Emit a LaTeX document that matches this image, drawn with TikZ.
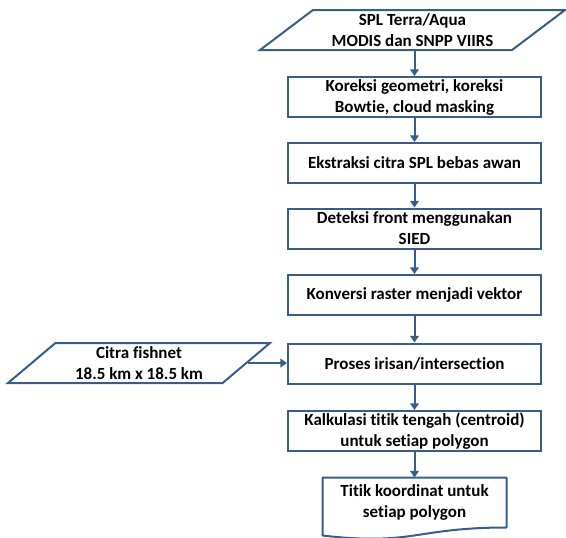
\documentclass[tikz,border=0pt]{standalone}
\usepackage{fontspec}
\setmainfont{Carlito}[Ligatures=NoCommon]
\usetikzlibrary{shapes.geometric,arrows.meta,calc}
\definecolor{flowblue}{RGB}{56,93,138}
\tikzset{every picture/.style={line width=0.75pt}}
\tikzset{
  flowtext/.style={align=center, inner sep=1pt, font=\bfseries\fontsize{12.75}{15.75}\selectfont},
  procbox/.style={flowtext, draw=flowblue, line width=1.5pt, minimum width=189.75pt, minimum height=30pt},
  databox/.style={flowtext, draw=flowblue, line width=1.5pt, shape=trapezium, trapezium stretches body, minimum height=30pt},
  flowarrow/.style={draw=flowblue, line width=1.5pt, -{Triangle[length=5pt,width=6.5pt]}}
}

\begin{document}
\begin{tikzpicture}[x=0.75pt,y=0.75pt,yscale=-1,xscale=1]
\useasboundingbox (0,0) rectangle (566,537);

%Input data
\node [databox, trapezium left angle=34, trapezium right angle=146, minimum width=228.75pt] (spl) at (412.5,30) {SPL Terra/Aqua\\MODIS dan SNPP VIIRS};
\node [databox, trapezium left angle=37, trapezium right angle=143, minimum width=196.5pt] (fishnet) at (139,363) {Citra fishnet\\18.5 km x 18.5 km};
\coordinate (fishout) at ($(fishnet.top right corner)!0.5!(fishnet.bottom right corner)$);

%Process steps
\node [procbox] (koreksi) at (414.5,97) {Koreksi geometri, koreksi\\Bowtie, cloud masking};
\node [procbox] (ekstraksi) at (414.5,163) {Ekstraksi citra SPL bebas awan};
\node [procbox] (deteksi) at (414.5,228.5) {Deteksi front menggunakan\\SIED};
\node [procbox] (konversi) at (414.5,295) {Konversi raster menjadi vektor};
\node [procbox] (irisan) at (414.5,363.5) {Proses irisan/intersection};
\node [procbox] (kalkulasi) at (414.5,431) {Kalkulasi titik tengah (centroid)\\untuk setiap polygon};

%Document output
\node [flowtext, minimum width=137.25pt, minimum height=36.75pt] (titik) at (414.5,502.5) {Titik koordinat untuk\\setiap polygon};
\draw [draw=flowblue, line width=1.5pt, line join=round] (titik.north west) -- (titik.north east) -- (titik.south east) .. controls (titik.south) and ($(titik.south)+(0,18.5)$) .. ($(titik.south west)+(0,8)$) -- cycle;

%Connectors
\draw [flowarrow] (koreksi.north |- spl.south) -- (koreksi.north);
\draw [flowarrow] (koreksi) -- (ekstraksi);
\draw [flowarrow] (ekstraksi) -- (deteksi);
\draw [flowarrow] (deteksi) -- (konversi);
\draw [flowarrow] (konversi) -- (irisan);
\draw [flowarrow] (irisan) -- (kalkulasi);
\draw [flowarrow] (kalkulasi) -- (titik.north);
\draw [flowarrow] (fishout) -- (fishout -| irisan.west);
\end{tikzpicture}
\end{document}
